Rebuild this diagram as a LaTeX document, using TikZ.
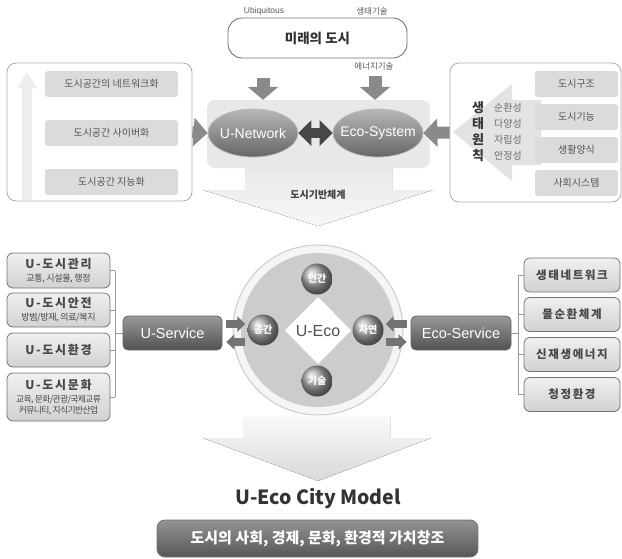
\documentclass[tikz,border=0pt]{standalone}
\usepackage{fontspec}
\setmainfont{Noto Sans CJK KR}
\newfontfamily\lat{Liberation Sans}
\newfontfamily\krsp{Noto Sans CJK KR}[LetterSpace=14]
\usetikzlibrary{arrows.meta,shapes.geometric,calc}
\newcommand{\myfs}[1]{\fontsize{#1}{#1}\selectfont}
\definecolor{arrgray}{HTML}{8A8A8A}
\definecolor{txtgray}{HTML}{555555}
\begin{document}
\begin{tikzpicture}[x=1pt,y=-1pt,
  panel/.style={draw=black!32, fill=white, rounded corners=9pt, line width=0.8pt},
  itembox/.style={fill=black!14, rounded corners=3pt, text=txtgray, font=\myfs{10}, inner sep=0pt},
  orb/.style={ellipse, minimum width=90pt, minimum height=48pt, inner xsep=-16pt, inner ysep=0pt,
    top color=black!28, bottom color=black!60, draw=black!28, line width=0.8pt,
    text=white, font=\lat\myfs{14}},
  sphere/.style={circle, minimum size=31pt, inner sep=0pt, ball color=black!34,
    text=white, font=\bfseries\myfs{10}},
  svc/.style={rounded corners=5pt, top color=black!40, bottom color=black!68,
    draw=black!60, line width=0.8pt, text=white, font=\lat\myfs{14.5}, inner sep=0pt},
  lbox/.style={rounded corners=6pt, top color=black!6, bottom color=black!18,
    draw=black!55, line width=0.8pt, text=black!72, inner sep=0pt, align=center},
  blk/.style={draw=arrgray, line width=13pt, -{Triangle[width=30pt,length=13pt]}},
  sblk/.style={draw=black!55, line width=8pt, -{Triangle[width=15pt,length=8pt]}},
  brk/.style={draw=black!40, line width=0.6pt},
  note/.style={font=\myfs{8.5}, text=black!65, inner sep=0pt}
]
\useasboundingbox (0,0) rectangle (622,558);

% ---------- top: future city ----------
\node[draw=black!55, line width=0.9pt, rounded corners=14pt, fill=white,
  minimum width=179pt, minimum height=40pt, font=\bfseries\myfs{13.5}, text=black!80]
  (future) at (317.5,38) {미래의 도시};
\node[font=\lat\myfs{8.5}, text=black!65, inner sep=0pt] (ubi) at (264,11) {Ubiquitous};
\node[note] (ecotech) at (372,11) {생태기술};
\node[note] (energy) at (374,66) {에너지기술};

% ---------- left panel ----------
\node[panel, minimum width=185pt, minimum height=138pt] (lpanel) at (99.5,132) {};
\coordinate (upbot) at (27,200);
\coordinate (uptop) at (27,72);
\draw[draw=black!7, line width=10pt, -{Triangle[width=19pt,length=16pt]}] (upbot) -- (uptop);
\node[itembox, minimum width=133pt, minimum height=26pt] (l1) at (111.5,84) {도시공간의 네트워크화};
\node[itembox, minimum width=133pt, minimum height=26pt] (l2) at (111.5,133) {도시공간 사이버화};
\node[itembox, minimum width=133pt, minimum height=26pt] (l3) at (111.5,182) {도시공간 지능화};

% ---------- infrastructure block with its down arrow ----------
\fill[top color=black!9, bottom color=black!3]
  (245,166) -- (245,190) -- (203,190) -- (318,226) -- (433,190) -- (392,190) -- (392,166) -- cycle;
\node[fill=black!9, rounded corners=8pt, minimum width=223pt, minimum height=68pt, inner sep=0pt]
  (core) at (318.5,134) {};
\node[font=\bfseries\myfs{10}, text=black!75, inner sep=0pt] (infra) at (318,195) {도시기반체계};

\node[orb] (unet) at (253,133) {U-Network};
\node[orb] (ecosys) at (378,133) {Eco-System};
\draw[draw=black!72, line width=10pt, {Triangle[width=25pt,length=13pt]}-{Triangle[width=25pt,length=13pt]}]
  (unet.east) -- (ecosys.west);

\coordinate (d1) at (263,78);
\coordinate (d2) at (375,76);
\draw[blk] (d1) -- (d1 |- core.north);
\draw[blk] (d2) -- (d2 |- core.north);

% ---------- right panel ----------
\node[panel, minimum width=171pt, minimum height=139pt] (rpanel) at (535.5,132.5) {};
\fill[black!11] (453,132) -- (512,84) -- (512,100) -- (541,100) -- (541,165)
  -- (512,165) -- (512,181) -- cycle;
\node[itembox, minimum width=83pt, minimum height=26pt] (r1) at (576.5,84) {도시구조};
\node[itembox, minimum width=83pt, minimum height=26pt] (r2) at (576.5,117) {도시기능};
\node[itembox, minimum width=83pt, minimum height=26pt] (r3) at (576.5,150) {생활양식};
\node[itembox, minimum width=83pt, minimum height=26pt] (r4) at (576.5,183) {사회시스템};
\foreach \c/\w/\y [count=\i] in {생/순환성/108, 태/다양성/124, 원/자립성/140, 칙/안정성/156}{
  \node[font=\bfseries\myfs{13}, text=black!78, inner sep=0pt] (pc\i) at (478,\y) {\c};
  \node[font=\myfs{10}, text=black!58, inner sep=0pt] (pw\i) at (508,\y) {\w};
}

\draw[blk, line width=12pt, -{Triangle[width=28pt,length=14pt]}] (lpanel.east) -- (unet.west);
\draw[blk, line width=12pt, -{Triangle[width=28pt,length=14pt]}] (rpanel.west) -- (ecosys.east);

% ---------- centre: U-Eco circle ----------
\node[circle, fill=black!4, draw=black!20, line width=1pt, minimum size=170pt, inner sep=0pt]
  (ring) at (318,330) {};
\node[circle, fill=black!20, minimum size=154pt, inner sep=0pt] (disc) at (318,330) {};
\fill[white] (318,297) -- (351,330.5) -- (318,364) -- (285,330.5) -- cycle;
\node[font=\lat\myfs{16}, text=black!68, inner sep=0pt] (ueco) at (318,331) {U-Eco};

\node[sphere] (human) at (317,279) {인간};
\node[sphere] (space) at (263,330) {공간};
\node[sphere] (nature) at (368,330) {자연};
\node[sphere] (tech) at (317,381) {기술};

% ---------- services ----------
\node[svc, minimum width=99pt, minimum height=34pt] (usvc) at (172.5,333) {U-Service};
\node[svc, minimum width=100pt, minimum height=34pt] (esvc) at (461,333) {Eco-Service};

\draw[sblk] ($(usvc.east)+(4,-9)$) -- ($(space.west)+(-2,-6)$);
\draw[sblk] ($(space.west)+(-2,12)$) -- ($(usvc.east)+(4,9)$);
\draw[sblk] ($(esvc.west)+(-4,-9)$) -- ($(nature.east)+(2,-6)$);
\draw[sblk] ($(nature.east)+(2,12)$) -- ($(esvc.west)+(-4,9)$);

% ---------- U-service list ----------
\node[lbox, minimum width=103pt, minimum height=35pt] (u1) at (58.5,270.5)
  {{\krsp\bfseries\myfs{12}U-도시관리}\\[1pt]{\myfs{9}\addfontfeature{LetterSpace=-4}교통, 시설물, 행정}};
\node[lbox, minimum width=103pt, minimum height=34pt] (u2) at (58.5,310)
  {{\krsp\bfseries\myfs{12}U-도시안전}\\[1pt]{\myfs{9}\addfontfeature{LetterSpace=-4}방범/방재, 의료/복지}};
\node[lbox, minimum width=103pt, minimum height=34pt] (u3) at (58.5,350)
  {{\krsp\bfseries\myfs{12}U-도시환경}};
\node[lbox, minimum width=103pt, minimum height=48pt] (u4) at (58.5,397)
  {{\krsp\bfseries\myfs{12}U-도시문화}\\[1pt]{\myfs{8.8}\addfontfeature{LetterSpace=-7}교육, 문화/관광/국제교류}\\[-1pt]{\myfs{8.8}\addfontfeature{LetterSpace=-7}커뮤니티, 지식기반산업}};

\coordinate (lbt) at (115,270.5);
\coordinate (lbb) at (115,397);
\draw[brk] (lbt) -- (lbb);
\foreach \n in {u1,u2,u3,u4} \draw[brk] (\n.east) -- (\n.east -| lbt);
\draw[brk] (usvc.west) -- (usvc.west -| lbt);

% ---------- Eco-service list ----------
\node[lbox, minimum width=96pt, minimum height=34pt, font=\krsp\bfseries\myfs{11.5}] (e1) at (572,275) {생태네트워크};
\node[lbox, minimum width=96pt, minimum height=34pt, font=\krsp\bfseries\myfs{11.5}] (e2) at (572,314.5) {물순환체계};
\node[lbox, minimum width=96pt, minimum height=34pt, font=\krsp\bfseries\myfs{11.5}] (e3) at (572,354.5) {신재생에너지};
\node[lbox, minimum width=96pt, minimum height=34pt, font=\krsp\bfseries\myfs{11.5}] (e4) at (572,394.5) {청정환경};

\coordinate (rbt) at (518,275);
\coordinate (rbb) at (518,394.5);
\draw[brk] (rbt) -- (rbb);
\foreach \n in {e1,e2,e3,e4} \draw[brk] (\n.west) -- (\n.west -| rbt);
\draw[brk] (esvc.east) -- (esvc.east -| rbt);

% ---------- result arrow and model ----------
\fill[top color=black!2, bottom color=black!15]
  (243,416) -- (243,438) -- (203,438) -- (318,481) -- (431,438) -- (390,438) -- (390,416) -- cycle;
\node[inner sep=0pt, text=black!80, font=\bfseries\myfs{19.5}] (model) at (318,499)
  {U-Eco City Model};
\node[rounded corners=8pt, top color=black!42, bottom color=black!66, draw=black!55,
  line width=0.9pt, minimum width=321pt, minimum height=37pt, inner sep=0pt,
  text=white, font=\bfseries\myfs{15}] (value) at (317.5,538.5)
  {도시의 사회, 경제, 문화, 환경적 가치창조};
\end{tikzpicture}
\end{document}
